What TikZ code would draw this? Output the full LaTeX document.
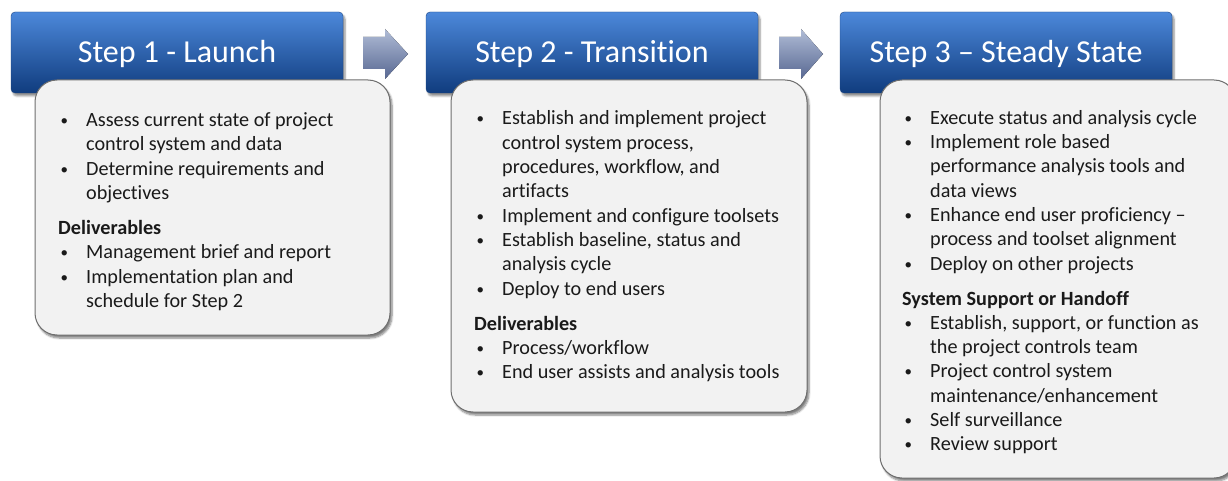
\documentclass[tikz,border=0pt]{standalone}
\usepackage{fontspec}
\setmainfont{Carlito}[Ligatures=NoCommon]
\usetikzlibrary{shadows.blur}
\definecolor{hdtop}{RGB}{76,136,218}
\definecolor{hdmid}{RGB}{38,98,178}
\definecolor{hdbot}{RGB}{16,60,126}
\definecolor{hdline}{RGB}{30,70,130}
\definecolor{cardfill}{RGB}{242,242,242}
\definecolor{cardline}{RGB}{110,110,110}
\definecolor{arrtop}{RGB}{176,188,214}
\definecolor{arrbot}{RGB}{88,104,146}
\definecolor{bodytext}{RGB}{26,26,26}
\newcommand\bul[1]{\par\hangindent=28pt\hangafter=1\noindent\makebox[28pt][l]{\hspace{2.5pt}\raisebox{1pt}{\fontsize{15}{15}\selectfont\textbullet}}#1\par}
\newcommand\hd[1]{\par\vspace{10.7pt}\noindent\textbf{#1}\par}
\tikzset{
  hdr/.style={rounded corners=4pt, top color=hdtop, middle color=hdmid, bottom color=hdbot,
    draw=hdline, line width=0.4pt, minimum width=332pt, minimum height=81pt, inner sep=0pt,
    text=white, font=\fontsize{32}{38}\selectfont, text height=20.6pt, text depth=0pt,
    blur shadow={shadow xshift=2pt, shadow yshift=-3pt, shadow blur steps=6, shadow opacity=45}},
  card/.style={rounded corners=22pt, fill=cardfill, draw=cardline, line width=1pt, inner sep=0pt,
    blur shadow={shadow xshift=2pt, shadow yshift=-3pt, shadow blur steps=6, shadow opacity=50}},
  flow/.style={top color=arrtop, bottom color=arrbot, draw=none},
  body/.style={anchor=base west, inner sep=0pt, text=bodytext, font=\fontsize{20.2}{24.3}\selectfont},
}
\begin{document}
\begin{tikzpicture}[x=1pt,y=1pt]
\useasboundingbox (0,0) rectangle (1228,-481);
% headers
\node[hdr] (h1) at (177,-52.5) {Step 1 - Launch};
\node[hdr] (h2) at (592,-52.5) {Step 2 - Transition};
\node[hdr] (h3) at (1006,-52.5) {Step 3 -- Steady State};
% arrows
\fill[flow] (363,-37) -- (385,-37) -- (385,-29) -- (408,-54) -- (385,-79) -- (385,-69) -- (363,-69) -- cycle;
\fill[flow] (779,-37) -- (801,-37) -- (801,-29) -- (823,-54) -- (801,-79) -- (801,-69) -- (779,-69) -- cycle;
% cards
\node[card, minimum width=355pt, minimum height=255pt] (c1) at (212.5,-207.5) {};
\node[card, minimum width=356pt, minimum height=332pt] (c2) at (629,-246) {};
\node[card, minimum width=356pt, minimum height=398pt] (c3) at (1058,-279) {};
% texts
\node[body] (t1) at (58,-126.7) {\begin{minipage}[t]{330pt}
\bul{Assess current state of project\newline control system and data}
\bul{Determine requirements and\newline objectives}
\hd{Deliverables}
\bul{Management brief and report}
\bul{Implementation plan and\newline schedule for Step 2}
\end{minipage}};
\node[body] (t2) at (474,-125) {\begin{minipage}[t]{330pt}
\bul{Establish and implement project\newline control system process,\newline procedures, workflow, and\newline artifacts}
\bul{Implement and configure toolsets}
\bul{Establish baseline, status and\newline analysis cycle}
\bul{Deploy to end users}
\hd{Deliverables}
\bul{Process/workflow}
\bul{End user assists and analysis tools}
\end{minipage}};
\node[body] (t3) at (902,-124.3) {\begin{minipage}[t]{320pt}
\bul{Execute status and analysis cycle}
\bul{Implement role based\newline performance analysis tools and\newline data views}
\bul{Enhance end user proficiency --\newline process and toolset alignment}
\bul{Deploy on other projects}
\hd{System Support or Handoff}
\bul{Establish, support, or function as\newline the project controls team}
\bul{Project control system\newline maintenance/enhancement}
\bul{Self surveillance}
\bul{Review support}
\end{minipage}};
\end{tikzpicture}
\end{document}
